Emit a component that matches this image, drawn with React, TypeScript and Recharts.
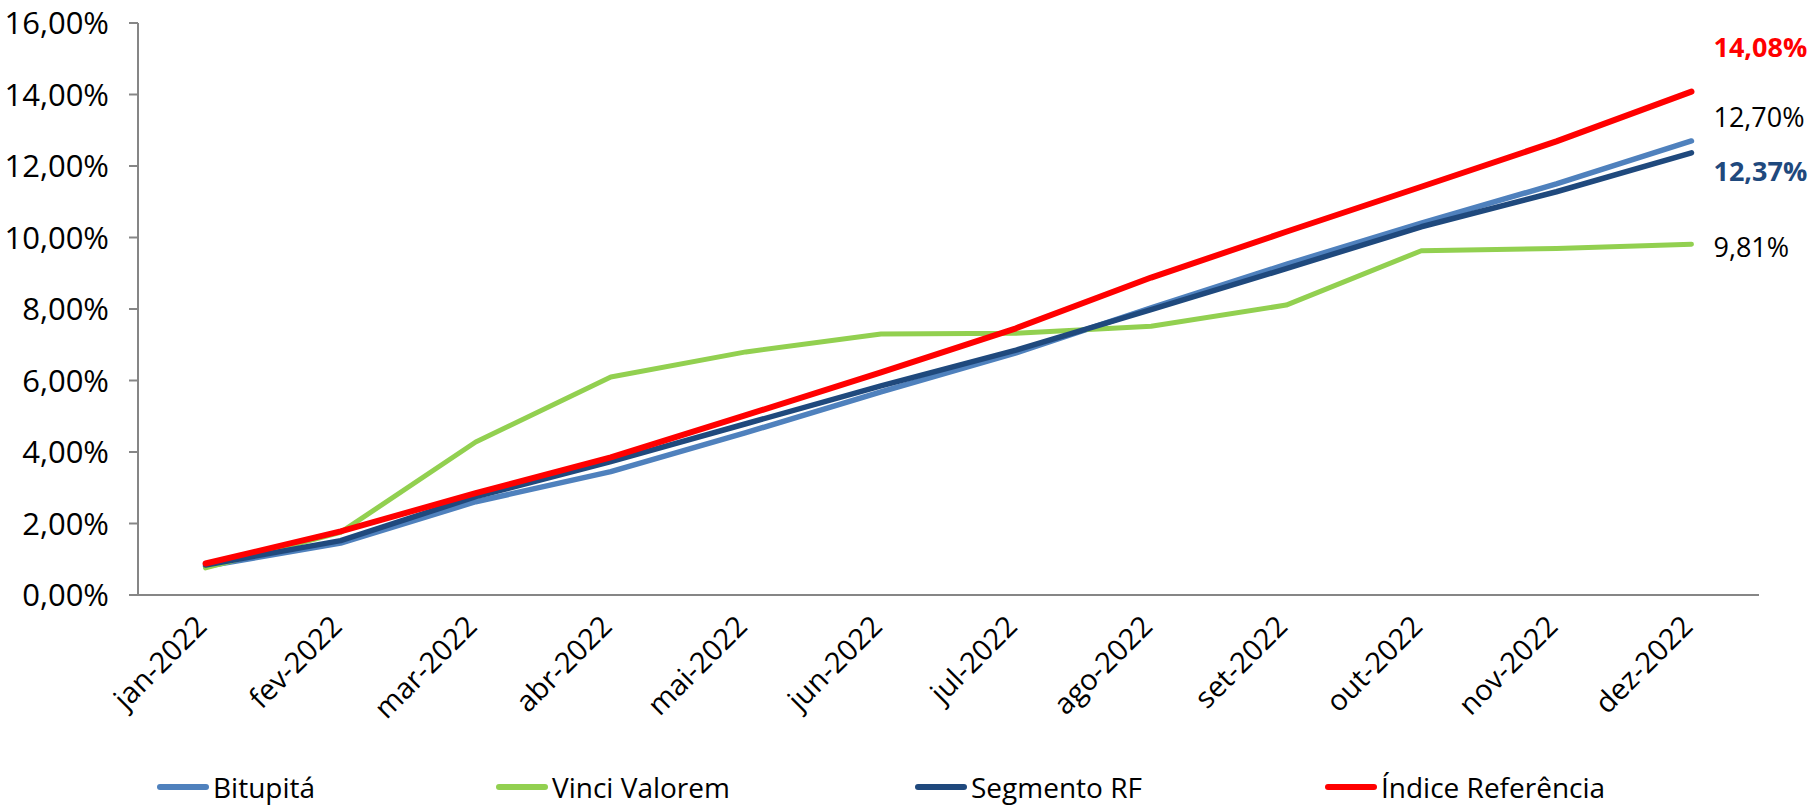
import React from 'react';
import { LineChart, Line, XAxis, YAxis, Legend } from 'recharts';

const months = ['jan-2022', 'fev-2022', 'mar-2022', 'abr-2022', 'mai-2022', 'jun-2022', 'jul-2022', 'ago-2022', 'set-2022', 'out-2022', 'nov-2022', 'dez-2022'];
const bitupita = [0.80, 1.45, 2.61, 3.45, 4.54, 5.68, 6.77, 8.03, 9.25, 10.40, 11.50, 12.70];
const vinciValorem = [0.76, 1.75, 4.28, 6.10, 6.80, 7.30, 7.32, 7.52, 8.11, 9.63, 9.69, 9.81];
const segmentoRF = [0.84, 1.52, 2.75, 3.73, 4.79, 5.85, 6.85, 7.98, 9.13, 10.30, 11.28, 12.37];
const indiceReferencia = [0.88, 1.78, 2.85, 3.85, 5.03, 6.23, 7.46, 8.88, 10.16, 11.42, 12.69, 14.08];
const yTicks = [0, 2, 4, 6, 8, 10, 12, 14, 16];

const data = months.map((m, i) => ({
  idx: i,
  month: m,
  bitupita: bitupita[i],
  vinci: vinciValorem[i],
  segmento: segmentoRF[i],
  indice: indiceReferencia[i],
}));

// tick marks sit between the categories, like the Excel original
const boundaries = [...months.map((_, i) => i - 0.5), months.length - 0.5];
const labelTicks = months.map((_, i) => i);

const FONT = '"Open Sans", sans-serif';
const AXIS = '#868686';

const series = [
  { key: 'bitupita', name: 'Bitupitá', color: '#4F81BD', width: 5.5, labelColor: '#000000', bold: false, labelDy: -24, legendW: 339 },
  { key: 'vinci', name: 'Vinci Valorem', color: '#92D050', width: 5, labelColor: '#000000', bold: false, labelDy: 2, legendW: 419 },
  { key: 'segmento', name: 'Segmento RF', color: '#1F497D', width: 5.5, labelColor: '#1F497D', bold: true, labelDy: 18, legendW: 410 },
  { key: 'indice', name: 'Índice Referência', color: '#FF0000', width: 6, labelColor: '#FF0000', bold: true, labelDy: -45, legendW: 420 },
];

const pct = (v: number) => v.toFixed(2).replace('.', ',') + '%';

const MonthTick = (props: any) => {
  const { x, y, payload } = props;
  const label = months[payload.value];
  if (!label) return null;
  return (
    <g transform={`translate(${x + 3},${y + 21})`}>
      <text transform="rotate(-45)" textAnchor="end" fill="#000" fontSize={29} fontFamily={FONT}>
        {label}
      </text>
    </g>
  );
};

const endLabel = (s: typeof series[number]) => (p: any) => {
  if (p.index !== months.length - 1) return <g />;
  return (
    <text
      x={p.x + 22}
      y={p.y + s.labelDy}
      dominantBaseline="central"
      fill={s.labelColor}
      fontWeight={s.bold ? 700 : 400}
      fontSize={27}
      fontFamily={FONT}
    >
      {pct(p.value)}
    </text>
  );
};

const renderLegend = () => (
  <div style={{ display: 'flex', alignItems: 'center', height: 40, paddingLeft: 157, fontFamily: FONT, fontSize: 28, color: '#000' }}>
    {series.map((s) => (
      <div key={s.key} style={{ display: 'flex', alignItems: 'center', width: s.legendW }}>
        <span style={{ display: 'inline-block', width: 52, height: 6, borderRadius: 3, background: s.color, marginRight: 4 }} />
        <span>{s.name}</span>
      </div>
    ))}
  </div>
);

export default function App() {
  return (
    <div style={{ position: 'absolute', left: 0, top: 0, background: '#fff' }}>
      <LineChart width={1818} height={807} data={data} margin={{ top: 23, right: 59, bottom: 0, left: 0 }}>
        <XAxis
          dataKey="idx"
          type="number"
          domain={[-0.5, 11.5]}
          ticks={boundaries}
          tick={false}
          tickSize={10}
          height={12}
          stroke={AXIS}
          strokeWidth={2}
          allowDataOverflow
        />
        <XAxis
          xAxisId="labels"
          dataKey="idx"
          type="number"
          domain={[-0.5, 11.5]}
          ticks={labelTicks}
          tick={<MonthTick />}
          tickLine={false}
          axisLine={false}
          tickSize={0}
          tickMargin={0}
          height={160}
          interval={0}
          allowDataOverflow
        />
        <YAxis
          domain={[0, 16]}
          ticks={yTicks}
          width={138}
          tickSize={9}
          tickMargin={20}
          tickFormatter={pct}
          stroke={AXIS}
          strokeWidth={2}
          tick={{ fill: '#000', fontSize: 31, fontFamily: FONT }}
          interval={0}
        />
        <Legend
          verticalAlign="bottom"
          content={renderLegend}
          wrapperStyle={{ left: 0, bottom: 0, width: 1818, height: 40 }}
        />
        {series.map((s) => (
          <Line
            key={s.key}
            dataKey={s.key}
            name={s.name}
            stroke={s.color}
            strokeWidth={s.width}
            strokeLinecap="round"
            strokeLinejoin="round"
            dot={false}
            activeDot={false}
            isAnimationActive={false}
            label={endLabel(s)}
          />
        ))}
      </LineChart>
    </div>
  );
}
